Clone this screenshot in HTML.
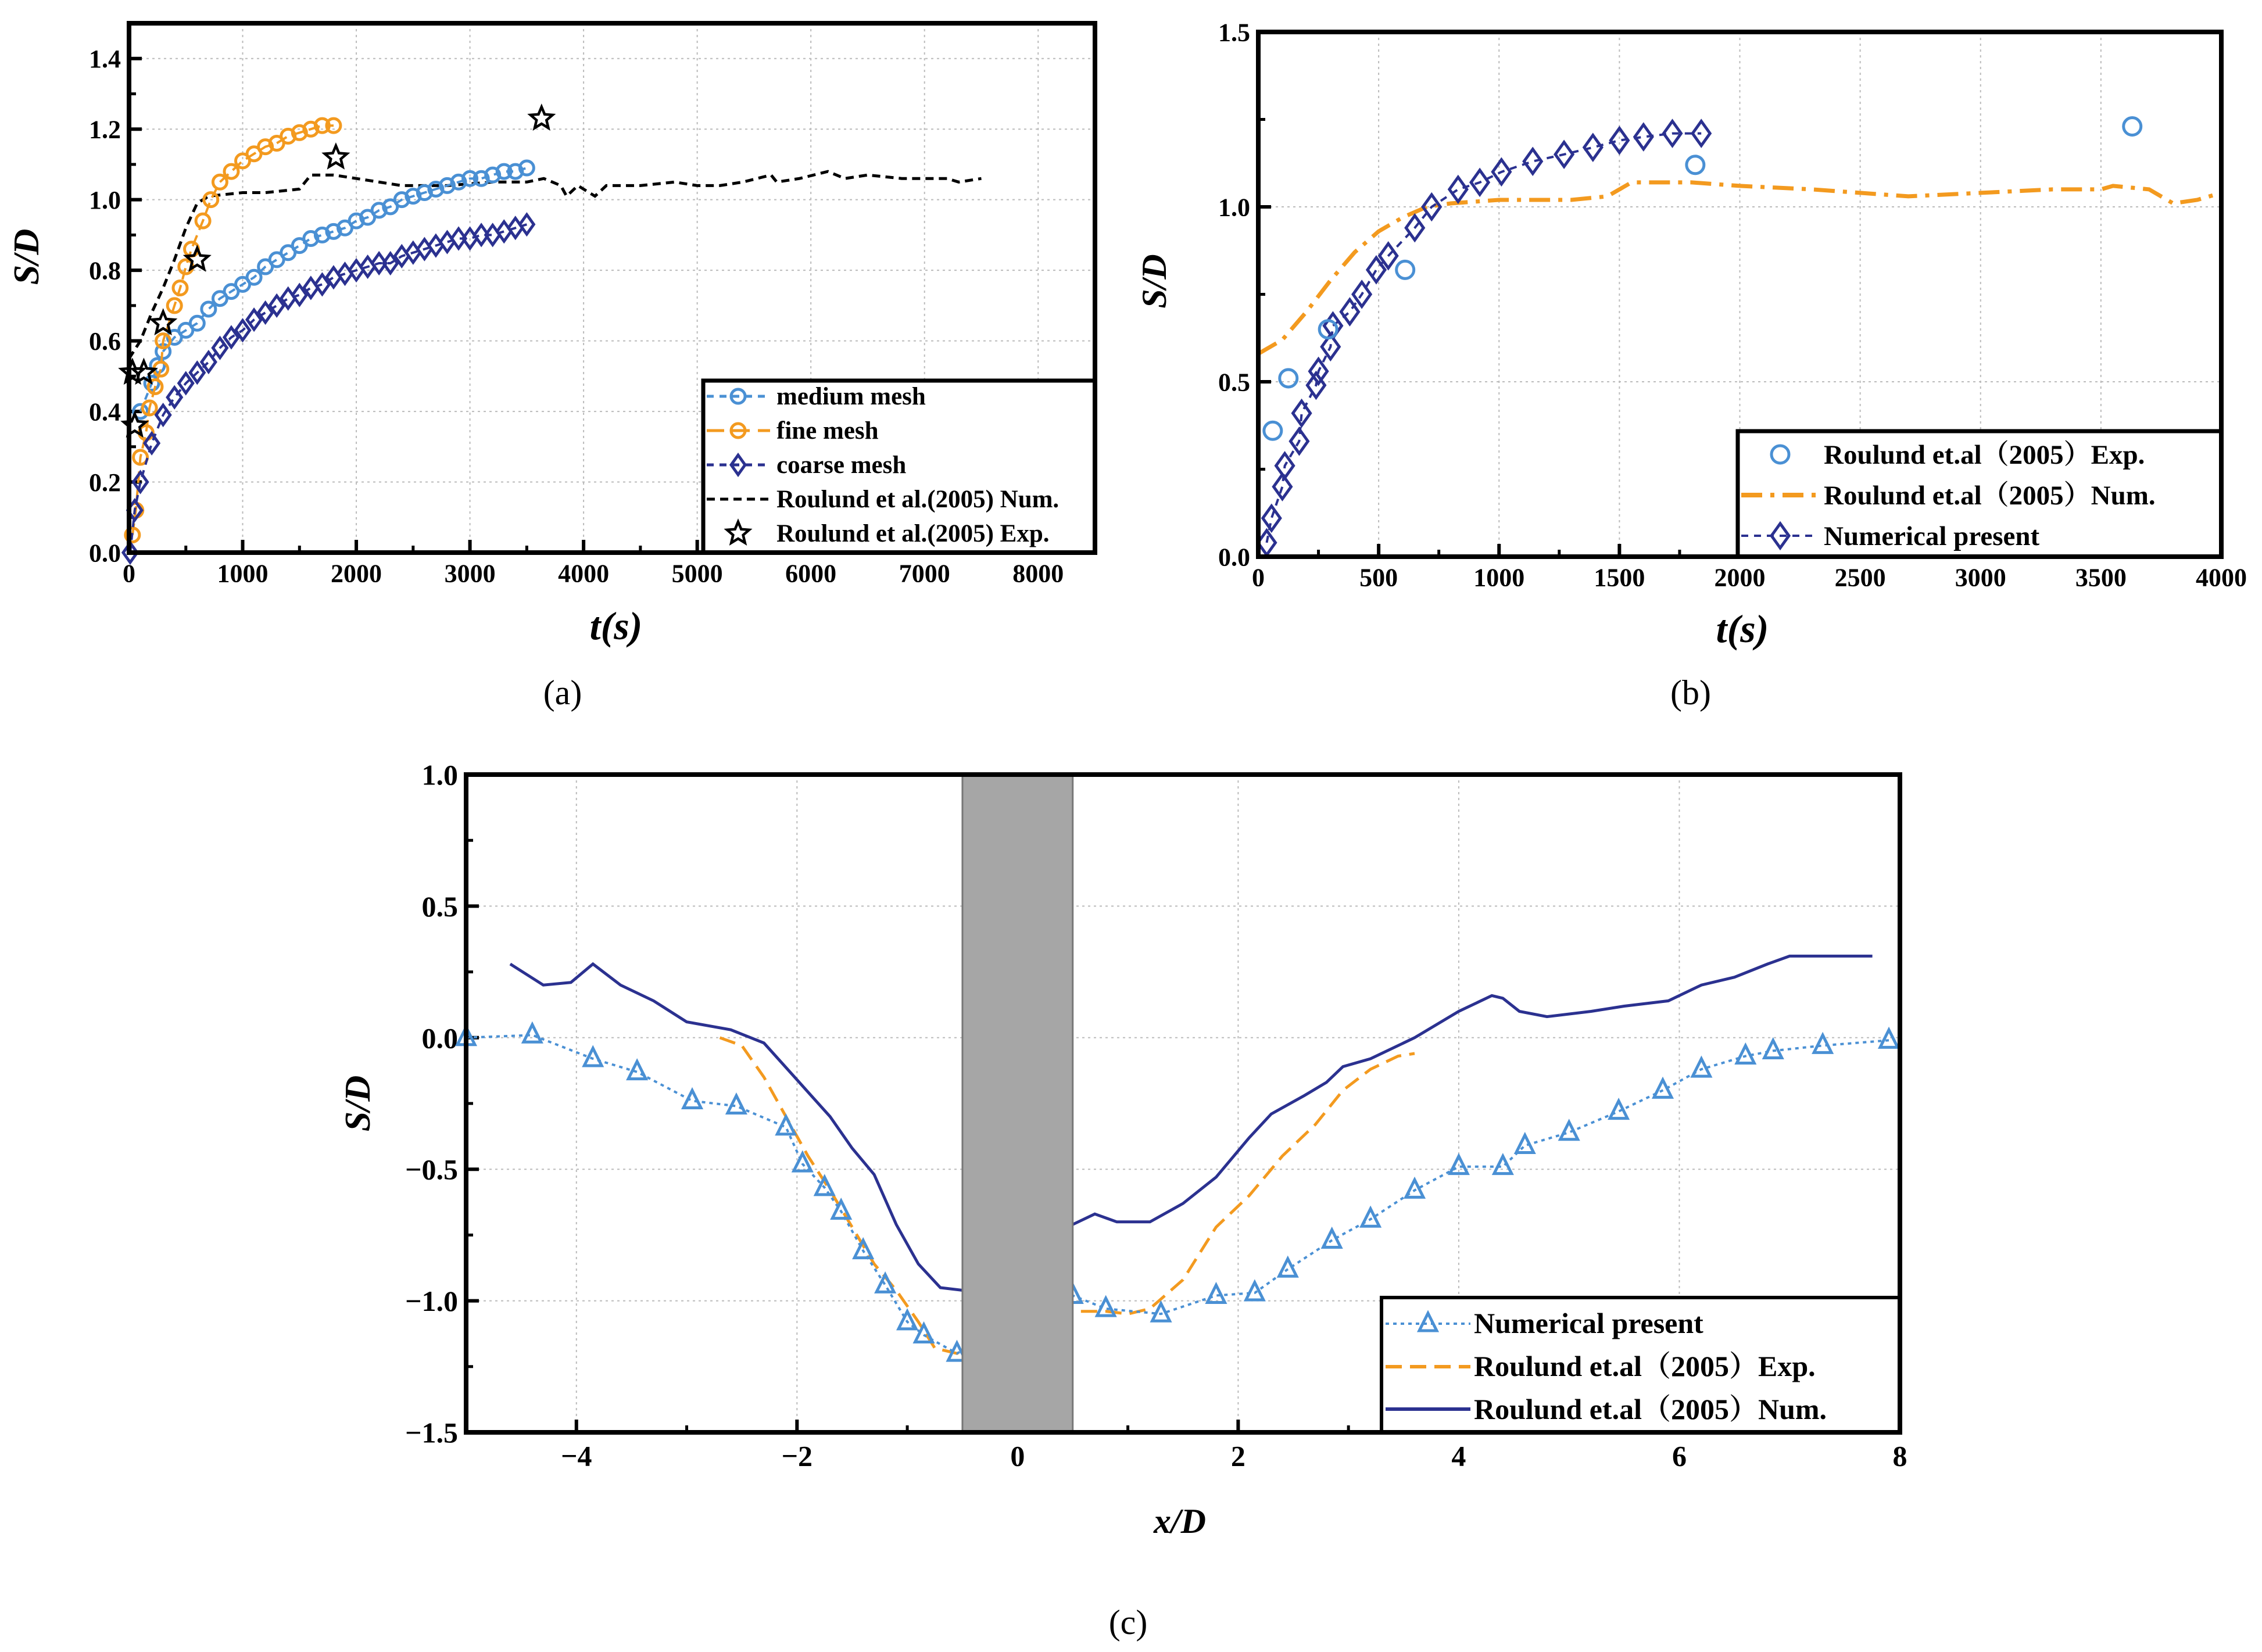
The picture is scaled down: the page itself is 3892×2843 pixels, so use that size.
<!DOCTYPE html>
<html><head><meta charset="utf-8">
<style>
html,body{margin:0;padding:0;background:#fff;}
svg{display:block;}
text{font-family:"Liberation Serif","Noto Serif CJK SC",serif;font-weight:bold;fill:#000;}
text.plain{font-weight:normal;}
</style></head>
<body>
<svg id="fig" width="3892" height="2843" viewBox="0 0 3892 2843" xmlns="http://www.w3.org/2000/svg">
<rect width="3892" height="2843" fill="#fff"/>
</svg>
<script>
// ---------- Panel (a) data ----------
const aMediumT=[100,200,250,300,400,500,600,700,800,900,1000,1100,1200,1300,1400,1500,1600,1700,1800,1900,2000,2100,2200,2300,2400,2500,2600,2700,2800,2900,3000,3100,3200,3300,3400,3500];
const aMediumS=[0.40,0.48,0.53,0.57,0.61,0.63,0.65,0.69,0.72,0.74,0.76,0.78,0.81,0.83,0.85,0.87,0.89,0.90,0.91,0.92,0.94,0.95,0.97,0.98,1.00,1.01,1.02,1.03,1.04,1.05,1.06,1.06,1.07,1.08,1.08,1.09];
const aFineT=[30,60,100,150,180,230,280,300,400,450,500,550,650,720,800,900,1000,1100,1200,1300,1400,1500,1600,1700,1800];
const aFineS=[0.05,0.12,0.27,0.34,0.41,0.47,0.52,0.60,0.70,0.75,0.81,0.86,0.94,1.00,1.05,1.08,1.11,1.13,1.15,1.16,1.18,1.19,1.20,1.21,1.21];
const aCoarseT=[10,50,100,200,300,400,500,600,700,800,900,1000,1100,1200,1300,1400,1500,1600,1700,1800,1900,2000,2100,2200,2300,2400,2500,2600,2700,2800,2900,3000,3100,3200,3300,3400,3500];
const aCoarseS=[0.0,0.12,0.20,0.31,0.39,0.44,0.48,0.51,0.54,0.58,0.61,0.63,0.66,0.68,0.70,0.72,0.73,0.75,0.76,0.78,0.79,0.80,0.81,0.82,0.82,0.84,0.85,0.86,0.87,0.88,0.89,0.89,0.90,0.90,0.91,0.92,0.93];
const aNumT=[0,100,200,300,400,500,600,700,1000,1200,1500,1600,1800,2000,2400,2800,3200,3500,3650,3800,3850,3950,4100,4200,4500,4800,5000,5200,5400,5650,5700,5900,6150,6300,6500,6800,7200,7300,7500];
const aNumS=[0.55,0.60,0.68,0.75,0.83,0.92,0.99,1.01,1.02,1.02,1.03,1.07,1.07,1.06,1.04,1.04,1.05,1.05,1.06,1.04,1.01,1.04,1.01,1.04,1.04,1.05,1.04,1.04,1.05,1.07,1.05,1.06,1.08,1.06,1.07,1.06,1.06,1.05,1.06];
const aExpT=[50,30,130,300,600,1820,3630];
const aExpS=[0.36,0.51,0.51,0.65,0.83,1.12,1.23];
const aXTicks=[0,1000,2000,3000,4000,5000,6000,7000,8000];
const aYTicks=[0.0,0.2,0.4,0.6,0.8,1.0,1.2,1.4];
// ---------- Panel (b) data ----------
const bExpT=[60,125,290,610,1815,3630];
const bExpS=[0.36,0.51,0.65,0.82,1.12,1.23];
const bNumT=[0,100,200,300,400,500,600,700,800,1000,1300,1450,1550,1800,2000,2300,2700,3000,3300,3500,3550,3700,3800,3900,4000];
const bNumS=[0.58,0.62,0.70,0.79,0.87,0.93,0.97,1.00,1.01,1.02,1.02,1.03,1.07,1.07,1.06,1.05,1.03,1.04,1.05,1.05,1.06,1.05,1.01,1.02,1.04];
const bPresT=[35,55,100,110,170,180,240,250,300,310,380,430,490,540,650,720,830,920,1010,1140,1270,1390,1500,1600,1720,1840];
const bPresS=[0.04,0.11,0.20,0.26,0.33,0.41,0.49,0.53,0.60,0.66,0.70,0.75,0.82,0.86,0.94,1.00,1.05,1.07,1.10,1.13,1.15,1.17,1.19,1.20,1.21,1.21];
const bXTicks=[0,500,1000,1500,2000,2500,3000,3500,4000];
const bYTicks=[0.0,0.5,1.0,1.5];
// ---------- Panel (c) data ----------
const cPresX=[-5,-4.4,-3.85,-3.45,-2.95,-2.55,-2.1,-1.95,-1.75,-1.6,-1.4,-1.2,-1.0,-0.85,-0.55,0.5,0.8,1.3,1.8,2.15,2.45,2.85,3.2,3.6,4.0,4.4,4.6,5.0,5.45,5.85,6.2,6.6,6.85,7.3,7.9];
const cPresS=[0,0.01,-0.08,-0.13,-0.24,-0.26,-0.34,-0.48,-0.57,-0.66,-0.81,-0.94,-1.08,-1.13,-1.2,-0.98,-1.03,-1.05,-0.98,-0.97,-0.88,-0.77,-0.69,-0.58,-0.49,-0.49,-0.41,-0.36,-0.28,-0.2,-0.12,-0.07,-0.05,-0.03,-0.01];
const cExpX=[-2.7,-2.5,-2.3,-2.1,-1.9,-1.7,-1.5,-1.3,-1.1,-0.9,-0.75,-0.55,0.5,0.8,1.0,1.2,1.5,1.8,2.1,2.4,2.7,2.95,3.2,3.45,3.6];
const cExpS=[0.0,-0.03,-0.15,-0.3,-0.45,-0.58,-0.72,-0.86,-0.96,-1.08,-1.18,-1.2,-1.04,-1.04,-1.05,-1.03,-0.92,-0.72,-0.6,-0.45,-0.33,-0.2,-0.12,-0.07,-0.06];
const cNumX=[-4.6,-4.3,-4.05,-3.85,-3.6,-3.3,-3.0,-2.6,-2.3,-2.0,-1.7,-1.5,-1.3,-1.1,-0.9,-0.7,-0.5,0.5,0.7,0.9,1.2,1.5,1.8,2.1,2.3,2.6,2.8,2.95,3.2,3.6,4.0,4.3,4.4,4.55,4.8,5.2,5.5,5.9,6.2,6.5,6.8,7.0,7.3,7.75];
const cNumS=[0.28,0.2,0.21,0.28,0.2,0.14,0.06,0.03,-0.02,-0.16,-0.3,-0.42,-0.52,-0.71,-0.86,-0.95,-0.96,-0.71,-0.67,-0.7,-0.7,-0.63,-0.53,-0.38,-0.29,-0.22,-0.17,-0.11,-0.08,0.0,0.1,0.16,0.15,0.1,0.08,0.1,0.12,0.14,0.2,0.23,0.28,0.31,0.31,0.31];
const cXTicks=[-4,-2,0,2,4,6,8];
const cYTicks=[-1.5,-1.0,-0.5,0.0,0.5,1.0];

const NS='http://www.w3.org/2000/svg';
const svg=document.getElementById('fig');
function mk(tag,attrs,parent){const e=document.createElementNS(NS,tag);for(const k in attrs)e.setAttribute(k,attrs[k]);(parent||svg).appendChild(e);return e;}
function scale(d0,d1,p0,p1){return v=>p0+(v-d0)/(d1-d0)*(p1-p0);}
function pathD(xs,ys,X,Y){return xs.map((v,i)=>(i?'L':'M')+X(v).toFixed(1)+','+Y(ys[i]).toFixed(1)).join(' ');}
function marker(g,type,cx,cy,color,r){
  let e;
  if(type==='circle')e=mk('circle',{cx:cx,cy:cy,r:r,fill:'none',stroke:color,'stroke-width':5},g);
  else if(type==='diamond')e=mk('polygon',{points:`${cx},${cy-r*1.4} ${cx+r},${cy} ${cx},${cy+r*1.4} ${cx-r},${cy}`,fill:'none',stroke:color,'stroke-width':5},g);
  else if(type==='tri')e=mk('polygon',{points:`${cx},${cy-r*1.2} ${cx+r},${cy+r*0.8} ${cx-r},${cy+r*0.8}`,fill:'none',stroke:color,'stroke-width':5},g);
  else {let p=[];for(let i=0;i<10;i++){const a=-Math.PI/2+i*Math.PI/5;const rr=i%2?r*0.45:r;p.push((cx+rr*Math.cos(a)).toFixed(1)+','+(cy+rr*Math.sin(a)).toFixed(1));}
    e=mk('polygon',{points:p.join(' '),fill:'none',stroke:color,'stroke-width':4.5},g);}
  return e;
}
function axesFrame(g,L,R,T,B,xt,yt,X,Y,fs,fmtY,fmtX){
  for(const v of xt){const x=X(v);if(x>L+5&&x<R-5)mk('line',{x1:x,y1:T,x2:x,y2:B,stroke:'#bbb','stroke-width':2,'stroke-dasharray':'4,6'},g);}
  for(const v of yt){const y=Y(v);if(y>T+5&&y<B-5)mk('line',{x1:L,y1:y,x2:R,y2:y,stroke:'#bbb','stroke-width':2,'stroke-dasharray':'4,6'},g);}
  for(const v of xt){const x=X(v);mk('line',{x1:x,y1:B,x2:x,y2:B-22,stroke:'#000','stroke-width':6},g);
    const t=mk('text',{x:x,y:B+fs*1.15,'font-size':fs,'text-anchor':'middle'},g);t.textContent=fmtX(v);
    
    }
  for(let i=0;i<xt.length-1;i++){const x=X((xt[i]+xt[i+1])/2);mk('line',{x1:x,y1:B,x2:x,y2:B-12,stroke:'#000','stroke-width':5},g);}
  for(const v of yt){const y=Y(v);mk('line',{x1:L,y1:y,x2:L+22,y2:y,stroke:'#000','stroke-width':6},g);
    const t=mk('text',{x:L-14,y:y+fs*0.35,'font-size':fs,'text-anchor':'end'},g);t.textContent=fmtY(v);
    
    }
  for(let i=0;i<yt.length-1;i++){const y=Y((yt[i]+yt[i+1])/2);mk('line',{x1:L,y1:y,x2:L+12,y2:y,stroke:'#000','stroke-width':5},g);}
}
function frame(g,L,R,T,B){const f=mk('rect',{x:L,y:T,width:R-L,height:B-T,fill:'none',stroke:'#000','stroke-width':8},g);
  
  }
function label(g,txt,x,y,fs,italic,rot,name){const t=mk('text',{x:x,y:y,'font-size':fs,'text-anchor':'middle'},g);
  if(italic)t.setAttribute('font-style','italic');
  if(rot)t.setAttribute('transform',`rotate(-90 ${x} ${y})`);
  t.textContent=txt;
  
  return t;}
const BLUE='#4a90d4',ORANGE='#f39a1f',NAVY='#2b3190';

// ================= Panel (a) =================
{
const g=mk('g',{});


const L=222,R=1884,T=40,B=951;
const X=scale(0,8500,L,R),Y=scale(0,1.5,B,T);
axesFrame(g,L,R,T,B,aXTicks,aYTicks,X,Y,44,v=>v.toFixed(1),v=>String(v));
const num=mk('path',{d:pathD(aNumT,aNumS,X,Y),fill:'none',stroke:'#000','stroke-width':5,'stroke-dasharray':'14,9'},g);


const series=[[aMediumT,aMediumS,BLUE,'circle','12,10','medium-mesh'],[aFineT,aFineS,ORANGE,'circle','20,10','fine-mesh'],[aCoarseT,aCoarseS,NAVY,'diamond','12,10','coarse-mesh']];
for(const [xs,ys,c,m,da,n] of series){
  const p=mk('path',{d:pathD(xs,ys,X,Y),fill:'none',stroke:c,'stroke-width':4,'stroke-dasharray':da},g);
  
  
  xs.forEach((v,i)=>{const e=marker(g,m,X(v),Y(ys[i]),c,12);
    
    });
}
aExpT.forEach((v,i)=>{const e=marker(g,'star',X(v),Y(aExpS[i]),'#000',20);
  
  });
const lg=mk('g',{},g);


mk('rect',{x:1210,y:655,width:674,height:296,fill:'#fff',stroke:'#000','stroke-width':7},lg);
const items=[['medium mesh',BLUE,'circle','12,10'],['fine mesh',ORANGE,'circle','30,14'],['coarse mesh',NAVY,'diamond','12,10'],['Roulund et al.(2005) Num.','#000',null,'14,9'],['Roulund et al.(2005) Exp.','#000','star',null]];
items.forEach((it,i)=>{const y=682+i*59;
  if(it[3])mk('line',{x1:1216,y1:y,x2:1325,y2:y,stroke:it[1],'stroke-width':5,'stroke-dasharray':it[3]},lg);
  if(it[2])marker(lg,it[2],1270,y,it[1],it[2]==='star'?20:12);
  const t=mk('text',{x:1336,y:y+14,'font-size':43},lg);t.textContent=it[0];
  
  });
frame(g,L,R,T,B);
label(g,'t(s)',1060,1100,68,true,false,'x-axis-title-a');
label(g,'S/D',66,442,62,true,true,'y-axis-title-a');
label(g,'(a)',968,1212,60,false,false,'panel-label-a').setAttribute('class','plain');
}
// ================= Panel (b) =================
{
const g=mk('g',{});


const L=2165,R=3822,T=55,B=958;
const X=scale(0,4000,L,R),Y=scale(0,1.5,B,T);
axesFrame(g,L,R,T,B,bXTicks,bYTicks,X,Y,44,v=>v.toFixed(1),v=>String(v));
const num=mk('path',{d:pathD(bNumT,bNumS,X,Y),fill:'none',stroke:ORANGE,'stroke-width':7,'stroke-dasharray':'36,14,7,14'},g);


const p=mk('path',{d:pathD(bPresT,bPresS,X,Y),fill:'none',stroke:NAVY,'stroke-width':4,'stroke-dasharray':'12,10'},g);


bPresT.forEach((v,i)=>{const e=marker(g,'diamond',X(v),Y(bPresS[i]),NAVY,15);
  
  });
bExpT.forEach((v,i)=>{const e=marker(g,'circle',X(v),Y(bExpS[i]),BLUE,15);
  
  });
const lg=mk('g',{},g);


mk('rect',{x:2990,y:742,width:832,height:216,fill:'#fff',stroke:'#000','stroke-width':7},lg);
marker(lg,'circle',3063,782,BLUE,15);
mk('line',{x1:2996,y1:852,x2:3126,y2:852,stroke:ORANGE,'stroke-width':8,'stroke-dasharray':'36,14,7,14'},lg);
mk('line',{x1:2996,y1:922,x2:3126,y2:922,stroke:NAVY,'stroke-width':4,'stroke-dasharray':'12,10'},lg);
marker(lg,'diamond',3063,922,NAVY,15);
['Roulund et.al（2005）Exp.','Roulund et.al（2005）Num.','Numerical present'].forEach((s,i)=>{
  const t=mk('text',{x:3138,y:798+i*70,'font-size':47},lg);t.textContent=s;
  
  });
frame(g,L,R,T,B);
label(g,'t(s)',2998,1105,68,true,false,'x-axis-title-b');
label(g,'S/D',2006,484,60,true,true,'y-axis-title-b');
label(g,'(b)',2909,1212,60,false,false,'panel-label-b').setAttribute('class','plain');
}
// ================= Panel (c) =================
{
const g=mk('g',{});


const L=802,R=3269,T=1333,B=2465;
const X=scale(-5,8,L,R),Y=scale(-1.5,1,B,T);
axesFrame(g,L,R,T,B,cXTicks,cYTicks,X,Y,50,v=>(v<0?'\u2212':'')+Math.abs(v).toFixed(1),v=>(v<0?'\u2212':'')+Math.abs(v));
const n=mk('path',{d:pathD(cNumX,cNumS,X,Y),fill:'none',stroke:NAVY,'stroke-width':5},g);


const e=mk('path',{d:pathD(cExpX,cExpS,X,Y),fill:'none',stroke:ORANGE,'stroke-width':5,'stroke-dasharray':'28,14'},g);


const p=mk('path',{d:pathD(cPresX,cPresS,X,Y),fill:'none',stroke:BLUE,'stroke-width':4,'stroke-dasharray':'6,7'},g);


cPresX.forEach((v,i)=>{const m=marker(g,'tri',X(v),Y(cPresS[i]),BLUE,15);
  
  });
const pile=mk('rect',{x:X(-0.5),y:T,width:X(0.5)-X(-0.5),height:B-T,fill:'#a6a6a6',stroke:'#777','stroke-width':3},g);


const lg=mk('g',{},g);


mk('rect',{x:2377,y:2233,width:892,height:232,fill:'#fff',stroke:'#000','stroke-width':6},lg);
mk('line',{x1:2384,y1:2278,x2:2530,y2:2278,stroke:BLUE,'stroke-width':4,'stroke-dasharray':'6,7'},lg);
marker(lg,'tri',2457,2278,BLUE,15);
mk('line',{x1:2384,y1:2352,x2:2530,y2:2352,stroke:ORANGE,'stroke-width':6,'stroke-dasharray':'28,14'},lg);
mk('line',{x1:2384,y1:2425,x2:2530,y2:2425,stroke:NAVY,'stroke-width':6},lg);
['Numerical present','Roulund et.al（2005）Exp.','Roulund et.al（2005）Num.'].forEach((s,i)=>{
  const t=mk('text',{x:2536,y:2294+i*74,'font-size':50},lg);t.textContent=s;
  
  });
frame(g,L,R,T,B);
label(g,'x/D',2030,2638,60,true,false,'x-axis-title-c');
label(g,'S/D',636,1899,62,true,true,'y-axis-title-c');
label(g,'(c)',1941,2812,60,false,false,'panel-label-c').setAttribute('class','plain');
}
</script>
</body></html>
